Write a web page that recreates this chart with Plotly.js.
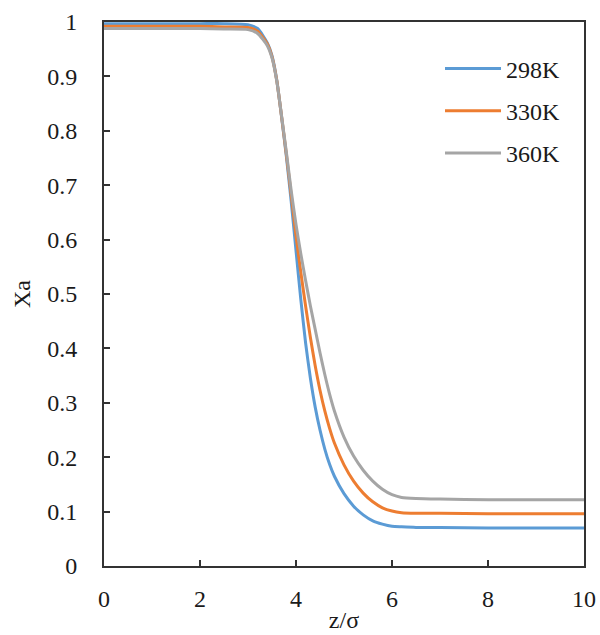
<!DOCTYPE html>
<html>
<head>
<meta charset="utf-8">
<script src="https://cdn.plot.ly/plotly-3.0.1.min.js"></script>
<style>html,body{margin:0;padding:0;background:#fff;}#chart{width:600px;height:635px;}</style>
</head>
<body>
<div id="chart"></div>
<script>
const zSigma = [0, 1, 2, 2.5, 3, 3.2, 3.4, 3.5, 3.6, 3.7, 3.8, 3.9, 4.0, 4.1, 4.2, 4.3, 4.4, 4.5, 4.6, 4.7, 4.8, 5.0, 5.2, 5.4, 5.6, 5.8, 6.0, 6.2, 6.5, 7, 8, 9, 10];
const xa298 = [0.997, 0.997, 0.997, 0.997, 0.995, 0.988, 0.962, 0.938, 0.893, 0.825, 0.752, 0.670, 0.580, 0.49, 0.41, 0.345, 0.292, 0.25, 0.215, 0.187, 0.165, 0.133, 0.110, 0.094, 0.083, 0.077, 0.073, 0.072, 0.071, 0.071, 0.070, 0.070, 0.070];
const xa330 = [0.992, 0.992, 0.992, 0.991, 0.990, 0.983, 0.960, 0.936, 0.892, 0.826, 0.756, 0.682, 0.607, 0.54, 0.478, 0.42, 0.368, 0.323, 0.285, 0.253, 0.226, 0.186, 0.156, 0.134, 0.118, 0.107, 0.101, 0.098, 0.097, 0.097, 0.096, 0.096, 0.096];
const xa360 = [0.988, 0.988, 0.988, 0.987, 0.986, 0.979, 0.957, 0.934, 0.891, 0.827, 0.760, 0.690, 0.628, 0.574, 0.525, 0.478, 0.435, 0.392, 0.352, 0.316, 0.285, 0.237, 0.202, 0.176, 0.156, 0.141, 0.131, 0.126, 0.124, 0.123, 0.122, 0.122, 0.122];
const seriesNames = ['298K', '330K', '360K'];
const seriesColors = ['#5B9BD5', '#ED7D31', '#A5A5A5'];
const seriesValues = [xa298, xa330, xa360];

const traces = seriesValues.map((ys, i) => ({
  x: zSigma, y: ys, type: 'scatter', mode: 'lines', name: seriesNames[i],
  legendgroup: 'g' + i,
  line: {color: seriesColors[i], width: 3, shape: 'spline', smoothing: 0.6}
}));

const serif = "'Liberation Serif', 'Times New Roman', serif";
const txt = '#1a1a1a';
const layout = {
  width: 600, height: 635,
  margin: {l: 104, r: 16, t: 22, b: 69},
  paper_bgcolor: '#fff', plot_bgcolor: '#fff',
  font: {family: serif, size: 24, color: txt},
  showlegend: true,
  legend: {x: 0.70, y: 0.955, xanchor: 'left', yanchor: 'top', bgcolor: 'rgba(0,0,0,0)',
           font: {family: serif, size: 24, color: txt}, itemwidth: 56, tracegroupgap: 8},
  xaxis: {range: [0, 10], dtick: 2, tick0: 0, showgrid: false, zeroline: false,
          showline: true, linecolor: '#333', linewidth: 2, mirror: true,
          ticks: 'inside', ticklen: 6, tickwidth: 2, tickcolor: '#333',
          ticklabelstandoff: 10,
          tickfont: {family: serif, size: 24, color: txt},
          title: {text: 'z/σ', font: {family: serif, size: 24, color: txt}, standoff: 0}},
  yaxis: {range: [0, 1], dtick: 0.1, tick0: 0, showgrid: false, zeroline: false,
          showline: true, linecolor: '#333', linewidth: 2, mirror: true,
          ticks: 'inside', ticklen: 6, tickwidth: 2, tickcolor: '#333',
          ticklabelstandoff: 20,
          tickfont: {family: serif, size: 24, color: txt},
          title: {text: 'Xa', font: {family: serif, size: 24, color: txt}, standoff: 10}}
};
Plotly.newPlot('chart', traces, layout, {staticPlot: true});
</script>
</body>
</html>
